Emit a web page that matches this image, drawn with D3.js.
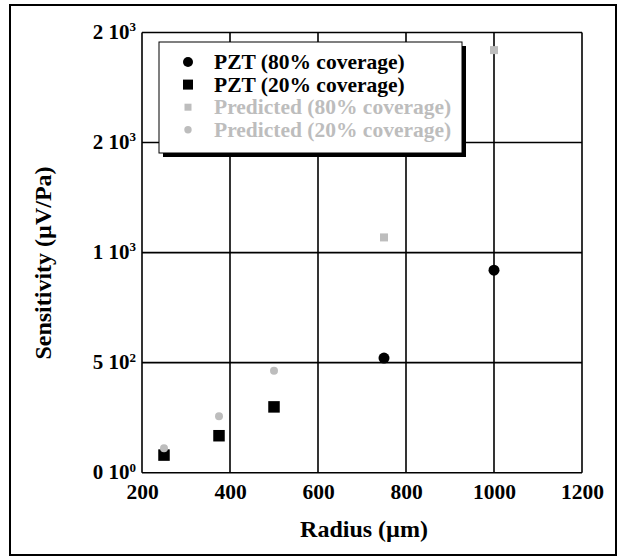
<!DOCTYPE html>
<html>
<head>
<meta charset="utf-8">
<script src="https://d3js.org/d3.v7.min.js"></script>
<style>
  body { margin: 0; background: #fff; }
  text { font-family: 'Liberation Serif', 'Times New Roman', serif; font-weight: bold; }
</style>
</head>
<body>
<div id="chart"></div>
<script>
// Data
var pzt80Radius = [750, 1000];
var pzt80Sens = [521, 920];
var pzt20Radius = [250, 375, 500];
var pzt20Sens = [80, 168, 299];
var pred80Radius = [750, 1000];
var pred80Sens = [1069, 1920];
var pred20Radius = [250, 375, 500];
var pred20Sens = [111, 257, 463];

var xTicks = [200, 400, 600, 800, 1000, 1200];
var yTicks = [0, 500, 1000, 1500, 2000];
// y labels as mantissa / exponent, as printed on the original
var yTickMantissa = ['0', '5', '1', '2', '2'];
var yTickExponent = ['0', '2', '3', '3', '3'];

var legendLabels = ['PZT (80% coverage)', 'PZT (20% coverage)', 'Predicted (80% coverage)', 'Predicted (20% coverage)'];

var width = 622;
var height = 557;
var black = '#000';
var grey = '#bdbdbd';

var svg = d3.select('#chart').append('svg')
  .attr('width', width)
  .attr('height', height);

// Outer frame
svg.append('rect')
  .attr('x', 10)
  .attr('y', 5)
  .attr('width', 606)
  .attr('height', 550)
  .style('fill', 'none')
  .style('stroke', black)
  .style('stroke-width', 2);

var x = d3.scaleLinear().domain([200, 1200]).range([142, 582]);
var y = d3.scaleLinear().domain([0, 2000]).range([472.7, 32.5]);

// Grid
var grid = svg.append('g').attr('class', 'grid');
grid.selectAll('.vline')
  .data(xTicks)
  .enter()
  .append('line')
  .attr('x1', function (d) { return x(d); })
  .attr('x2', function (d) { return x(d); })
  .attr('y1', y(0))
  .attr('y2', y(2000))
  .style('stroke', black)
  .style('stroke-width', 1.6);
grid.selectAll('.hline')
  .data(yTicks)
  .enter()
  .append('line')
  .attr('x1', x(200))
  .attr('x2', x(1200))
  .attr('y1', function (d) { return y(d); })
  .attr('y2', function (d) { return y(d); })
  .style('stroke', black)
  .style('stroke-width', 1.6);

// X axis labels
var xAxis = svg.append('g')
  .attr('transform', 'translate(0,' + y(0) + ')')
  .call(d3.axisBottom(x).tickValues(xTicks).tickSize(0).tickPadding(11).tickFormat(d3.format('d')));
xAxis.select('.domain').remove();
xAxis.selectAll('text')
  .attr('fill', black)
  .style('font-size', '21.5px')
  .attr('dy', '0.71em');

// Y axis labels with superscripts
var yLab = svg.append('g').selectAll('text')
  .data(yTicks)
  .enter()
  .append('text')
  .attr('x', x(200) - 6)
  .attr('y', function (d) { return y(d) + 6; })
  .style('text-anchor', 'end')
  .style('font-size', '21px')
  .attr('fill', black);
yLab.append('tspan')
  .text(function (d, i) { return yTickMantissa[i] + ' 10'; });
yLab.append('tspan')
  .attr('dy', '-0.55em')
  .style('font-size', '13px')
  .text(function (d, i) { return yTickExponent[i]; });

// Axis titles
svg.append('text')
  .attr('x', x(700) + 2)
  .attr('y', 537)
  .style('text-anchor', 'middle')
  .style('font-size', '24px')
  .text('Radius (\u00b5m)');
svg.append('text')
  .attr('transform', 'translate(51,' + 263 + ') rotate(-90)')
  .style('text-anchor', 'middle')
  .style('font-size', '24px')
  .text('Sensitivity (\u00b5V/Pa)');

// Markers
var marks = svg.append('g').attr('class', 'marks');
function squares(xs, ys, size, color) {
  marks.selectAll(null)
    .data(xs)
    .enter()
    .append('rect')
    .attr('x', function (d) { return x(d) - size / 2; })
    .attr('y', function (d, i) { return y(ys[i]) - size / 2; })
    .attr('width', size)
    .attr('height', size)
    .style('fill', color);
}
function circles(xs, ys, r, color) {
  marks.selectAll(null)
    .data(xs)
    .enter()
    .append('circle')
    .attr('cx', function (d) { return x(d); })
    .attr('cy', function (d, i) { return y(ys[i]); })
    .attr('r', r)
    .style('fill', color);
}
squares(pred80Radius, pred80Sens, 8, grey);
squares(pzt20Radius, pzt20Sens, 11.5, black);
circles(pred20Radius, pred20Sens, 4, grey);
circles(pzt80Radius, pzt80Sens, 5.5, black);

// Legend
var legend = svg.append('g').attr('class', 'legend');
legend.append('rect')
  .attr('x', 163)
  .attr('y', 46)
  .attr('width', 303)
  .attr('height', 111)
  .style('fill', black);
legend.append('rect')
  .attr('x', 159)
  .attr('y', 42)
  .attr('width', 303)
  .attr('height', 111)
  .style('fill', '#fff')
  .style('stroke', black)
  .style('stroke-width', 1);

var legendColors = [black, black, grey, grey];
var legendShapes = ['circle', 'square', 'square', 'circle'];
var legendSizes = [5, 10, 7, 3.7];
legendLabels.forEach(function (label, i) {
  var cy = 62 + i * 22.6;
  if (legendShapes[i] === 'circle') {
    legend.append('circle')
      .attr('cx', 188)
      .attr('cy', cy)
      .attr('r', legendSizes[i])
      .style('fill', legendColors[i]);
  } else {
    legend.append('rect')
      .attr('x', 188 - legendSizes[i] / 2)
      .attr('y', cy - legendSizes[i] / 2)
      .attr('width', legendSizes[i])
      .attr('height', legendSizes[i])
      .style('fill', legendColors[i]);
  }
  legend.append('text')
    .attr('x', 214)
    .attr('y', cy + 7)
    .style('font-size', '21.5px')
    .attr('fill', legendColors[i])
    .text(label);
});
</script>
</body>
</html>
